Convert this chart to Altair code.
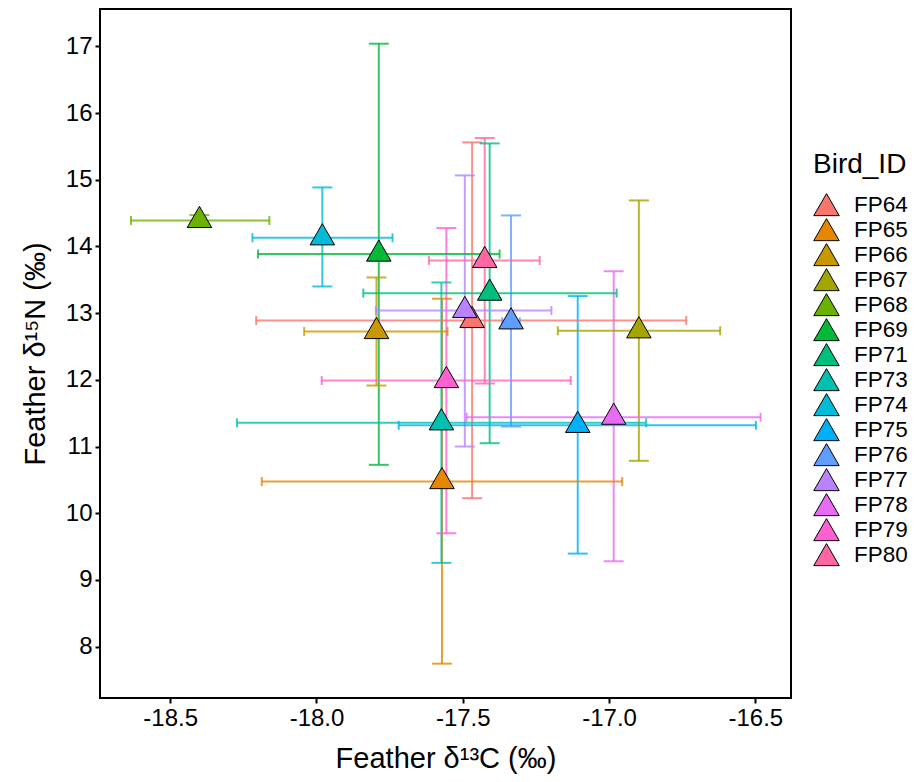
import altair as alt
import pandas as pd

birds = ["FP64", "FP65", "FP66", "FP67", "FP68", "FP69", "FP71", "FP73",
         "FP74", "FP75", "FP76", "FP77", "FP78", "FP79", "FP80"]
c13_mean = [-17.468, -17.571, -17.795, -16.898, -18.40, -17.787, -17.408, -17.573,
            -17.98, -17.107, -17.335, -17.493, -16.984, -17.556, -17.425]
c13_min = [-18.206, -18.187, -18.042, -17.175, -18.634, -18.20, -17.84, -18.272,
           -18.219, -17.719, -17.365, -17.797, -17.487, -17.982, -17.616]
c13_max = [-16.736, -16.955, -17.552, -16.62, -18.161, -17.374, -16.974, -16.873,
           -17.74, -16.498, -17.305, -17.197, -16.482, -17.131, -17.237]
n15_mean = [12.89, 10.475, 12.725, 12.736, 14.39, 13.886, 13.30, 11.356,
            14.13, 11.318, 12.87, 13.04, 11.44, 11.99, 13.79]
n15_min = [10.226, 7.745, 11.915, 10.786, 14.31, 10.726, 11.05, 9.256,
           13.40, 9.395, 11.3, 11.0, 9.28, 9.70, 11.945]
n15_max = [15.56, 13.216, 13.535, 14.69, 14.47, 17.04, 15.545, 13.46,
           14.885, 13.256, 14.465, 15.065, 13.63, 14.276, 15.626]
palette = ["#F8766D", "#E58700", "#C99800", "#A3A500", "#6BB100", "#00BA38",
           "#00BF7D", "#00C0AF", "#00BCD8", "#00B0F6", "#619CFF", "#B983FF",
           "#E76BF3", "#FD61D1", "#FF67A4"]
x_ticks = [-18.5, -18.0, -17.5, -17.0, -16.5]
y_ticks = [8, 9, 10, 11, 12, 13, 14, 15, 16, 17]

df = pd.DataFrame({
    "Bird_ID": birds, "x": c13_mean, "xmin": c13_min, "xmax": c13_max,
    "y": n15_mean, "ymin": n15_min, "ymax": n15_max,
})

FONT = "Liberation Sans"
xs = alt.Scale(domain=[-18.74, -16.378], nice=False, zero=False)
ys = alt.Scale(domain=[7.23, 17.56], nice=False, zero=False)
cs = alt.Scale(domain=birds, range=palette)

xaxis = alt.Axis(values=x_ticks, title="Feather δ¹³C (‰)", titlePadding=14,
                 labelExpr="(datum.value < 0 ? '-' : '') + format(abs(datum.value), '.1f')")
yaxis = alt.Axis(values=y_ticks, title="Feather δ¹⁵N (‰)", format="d", titlePadding=15)

legend = alt.Legend(title="Bird_ID", orient="none", legendX=713, legendY=141.5,
                    symbolType="triangle-up", symbolSize=650, symbolStrokeColor="black",
                    symbolStrokeWidth=1, symbolOpacity=1, clipHeight=24.3)

base = alt.Chart(df)
col = alt.Color("Bird_ID:N", scale=cs, legend=None)
bar_style = dict(strokeWidth=2, opacity=0.8)

vbar = base.mark_rule(**bar_style).encode(
    x=alt.X("x:Q", scale=xs, axis=xaxis),
    y=alt.Y("ymin:Q", scale=ys, axis=yaxis),
    y2="ymax:Q", color=col)
hbar = base.mark_rule(**bar_style).encode(
    x=alt.X("xmin:Q", scale=xs), x2="xmax:Q",
    y=alt.Y("y:Q", scale=ys), color=col)
cap_top = base.mark_tick(orient="horizontal", size=20, thickness=2, opacity=0.8).encode(
    x=alt.X("x:Q", scale=xs), y=alt.Y("ymax:Q", scale=ys), color=col)
cap_bot = base.mark_tick(orient="horizontal", size=20, thickness=2, opacity=0.8).encode(
    x=alt.X("x:Q", scale=xs), y=alt.Y("ymin:Q", scale=ys), color=col)
cap_left = base.mark_tick(orient="vertical", size=9, thickness=2, opacity=0.8).encode(
    x=alt.X("xmin:Q", scale=xs), y=alt.Y("y:Q", scale=ys), color=col)
cap_right = base.mark_tick(orient="vertical", size=9, thickness=2, opacity=0.8).encode(
    x=alt.X("xmax:Q", scale=xs), y=alt.Y("y:Q", scale=ys), color=col)

points = base.mark_point(shape="triangle-up", filled=True, size=600, stroke="black",
                         strokeWidth=1, opacity=1, yOffset=-3.5).encode(
    x=alt.X("x:Q", scale=xs), y=alt.Y("y:Q", scale=ys),
    color=alt.Color("Bird_ID:N", scale=cs, legend=legend))

chart = alt.layer(vbar, hbar, cap_top, cap_bot, cap_left, cap_right, points).resolve_legend(
    color="independent"
).properties(
    width=691, height=689,
    autosize=alt.AutoSizeParams(type="none"),
    padding={"left": 92, "top": 1, "right": 120, "bottom": 84},
).configure_view(stroke="black", strokeWidth=2).configure_axis(
    grid=False, domain=False, labelFont=FONT, titleFont=FONT, labelFontSize=24,
    titleFontSize=29, titleFontWeight="normal", labelColor="black", titleColor="black",
    tickColor="black", tickWidth=2, tickSize=5, labelPadding=3,
).configure_legend(
    labelFont=FONT, titleFont=FONT, labelFontSize=22.5, titleFontSize=28,
    titleFontWeight="normal", labelColor="black", titleColor="black",
    rowPadding=0, labelOffset=14, titlePadding=14,
)

chart.save("out.html", embed_options={"renderer": "svg", "actions": False})
